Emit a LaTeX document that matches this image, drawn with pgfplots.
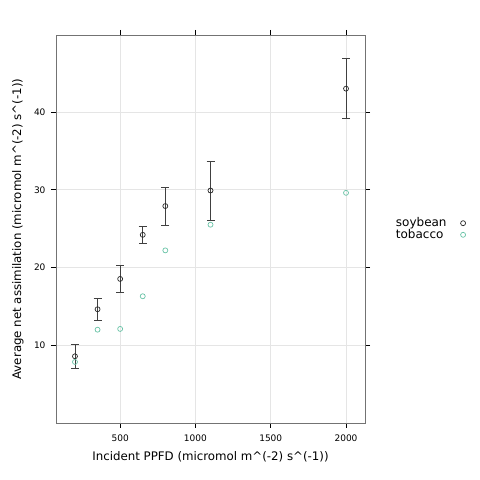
\documentclass[border=0pt]{standalone}
\usepackage{fontspec}
\setmainfont{DejaVu Sans}
\usepackage{pgfplots}
\pgfplotsset{compat=1.18}
\definecolor{tob}{HTML}{66C2A5}
\begin{document}
\begin{tikzpicture}[x=1pt,y=1pt]
\path[use as bounding box] (0,0) rectangle (480,480);
\begin{axis}[
 at={(56pt,57pt)}, anchor=south west, scale only axis, width=309pt, height=388pt,
 xmin=74, xmax=2126, ymin=0, ymax=49.9,
 xtick={500,1000,1500,2000}, ytick={10,20,30,40},
 tick align=outside, major tick length=5pt,
 grid=major, grid style={black!10, line width=0.5pt},
 axis line style={black!55, line width=0.8pt},
 tick style={black, line width=0.6pt},
 ticklabel style={font=\fontsize{9}{10}\selectfont},
 xticklabel style={yshift=-3pt},
 yticklabel style={xshift=-2pt},
 /pgf/number format/assume math mode=true,
 /pgf/number format/1000 sep={},
 xlabel={Incident PPFD (micromol m\^{}(-2) s\^{}(-1))},
 ylabel={Average net assimilation (micromol m\^{}(-2) s\^{}(-1))},
 label style={font=\fontsize{11.8}{13}\selectfont},
 xlabel style={at={(axis description cs:0.5,-0.0876)}, anchor=center},
 ylabel style={at={(axis description cs:-0.123,0.5)}, anchor=center},
 legend style={draw=none, fill=none, inner sep=0pt, at={(axis description cs:1.093,0.5)}, anchor=west,
   font=\fontsize{12}{12}\selectfont, row sep=-3pt, column sep=12pt, cells={anchor=west}},
 legend plot pos=right,
]
\addplot[only marks, mark=o, mark size=2.5pt, black!85, line width=0.7pt,
  error bars/.cd, y dir=both, y explicit,
  error bar style={black!75, line width=0.7pt},
  error mark options={rotate=90, mark size=4pt, black!75, line width=0.7pt},
  ] table[x=x, y=y, y error=e] {
x y e
200 8.58 1.5
350 14.63 1.4
500 18.53 1.75
650 24.2 1.1
800 27.9 2.45
1100 29.9 3.8
2000 43.0 3.86
};
\addlegendentry{soybean}
\addplot[only marks, mark=o, mark size=2.5pt, tob, line width=0.7pt] table[x=x, y=y] {
x y
200 7.85
350 12.0
500 12.1
650 16.3
800 22.2
1100 25.5
2000 29.6
};
\addlegendentry{tobacco}
\end{axis}
\end{tikzpicture}
\end{document}
